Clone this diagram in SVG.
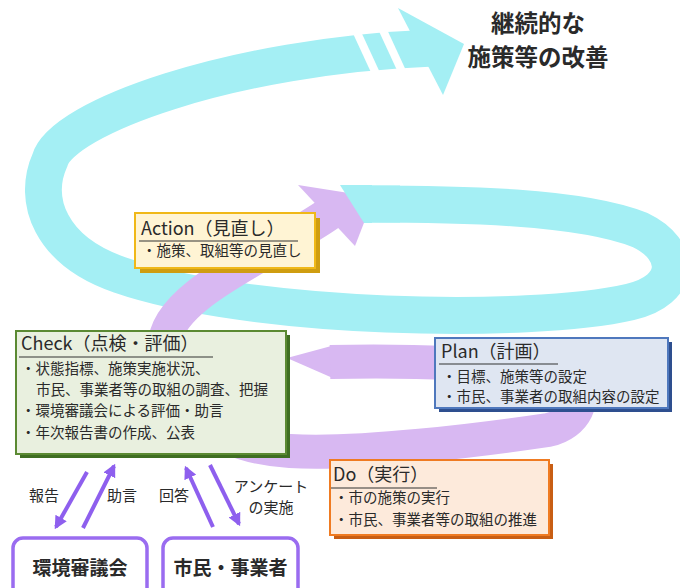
<svg xmlns="http://www.w3.org/2000/svg" width="680" height="588" viewBox="0 0 680 588">
<defs>
<style>
text { font-family: "Noto Sans CJK JP", "Noto Sans", sans-serif; fill:#2a2a2a; }
.cy { fill:none; stroke:#a4eff4; stroke-width:37; }
.cyf { fill:#a4eff4; }
.pu { fill:none; stroke:#d8b8f2; stroke-width:34; }
.puf { fill:#d8b8f2; }
.gap { stroke:#ffffff; stroke-width:8; }
.ttl { font-size:18px; }
.body { font-size:14.5px; }
.lbl { font-size:15px; }
.big { font-size:19px; font-weight:bold; }
.head { font-size:23.5px; font-weight:bold; text-anchor:middle; }
.ul { stroke:#333; stroke-width:1.2; }
.arr { stroke:#8e5fee; stroke-width:4; fill:none; marker-end:url(#ah); }
.org { fill:#ffffff; stroke:#9a6cf0; stroke-width:3.5; }
</style>
<marker id="ah" viewBox="0 0 10 10" refX="8" refY="5" markerWidth="13" markerHeight="13" markerUnits="userSpaceOnUse" orient="auto"><path d="M0,0 L10,5 L0,10 z" fill="#8e5fee"/></marker>
</defs>

<g id="spiral-outer">
<path class="cy" d="M 365 204 C 460 204, 580 206, 640 230 C 682 250, 682 290, 630 302 C 530 325, 250 320, 120 275 C 50 251, 32 200, 50 160 C 62 118, 230 56, 433 48"/>
<line class="gap" x1="352.6" y1="23" x2="379.4" y2="81"/>
<line class="gap" x1="379.6" y1="23" x2="406.4" y2="81"/>
<polygon class="cyf" points="398,8 464,44 443,95"/>
</g>

<g id="spiral-inner">
<polygon class="puf" points="287,358 335,345 335,379"/>
<path class="pu" d="M 330 362 C 430 360, 530 364, 570 385 C 588 397, 576 424, 548 430 C 480 440, 360 455, 290 451 C 220 447, 165 410, 165 345 C 165 295, 270 255, 330 213"/>
<polygon class="puf" points="298,185 374,197 355,246"/>
</g>

<g id="spiral-outer-start">
<polygon class="cyf" points="340,185 372,185 372,223 364,223"/>
<path class="cy" d="M 370 204 L 400 204"/>
</g>

<g id="title">
<text class="head" x="538" y="32">継続的な</text>
<text class="head" x="538" y="66">施策等の改善</text>
</g>

<g id="action">
<rect x="140" y="218" width="180" height="55" fill="#cf9d10"/>
<rect x="135" y="213" width="180" height="55" fill="#fff4d4" stroke="#f0b818" stroke-width="2"/>
<text class="ttl" x="141" y="235">Action（見直し）</text>
<line class="ul" x1="139" y1="241" x2="298" y2="241"/>
<text class="body" x="142" y="256">・施策、取組等の見直し</text>
</g>

<g id="check">
<rect x="20" y="335" width="270" height="123" fill="#3f6e22"/>
<rect x="16" y="331" width="270" height="123" fill="#e9f0df" stroke="#5b8a33" stroke-width="2"/>
<text class="ttl" x="21" y="350">Check（点検・評価）</text>
<line class="ul" x1="19" y1="357" x2="213" y2="357"/>
<text class="body" x="21" y="374">・状態指標、施策実施状況、</text>
<text class="body" x="36" y="395">市民、事業者等の取組の調査、把握</text>
<text class="body" x="21" y="416">・環境審議会による評価・助言</text>
<text class="body" x="21" y="438">・年次報告書の作成、公表</text>
</g>

<g id="plan">
<rect x="439" y="342" width="233" height="70" fill="#2e4f8f"/>
<rect x="435" y="338" width="233" height="70" fill="#dfe6f2" stroke="#4f78bd" stroke-width="2"/>
<text class="ttl" x="441" y="358">Plan（計画）</text>
<line class="ul" x1="439" y1="364" x2="558" y2="364"/>
<text class="body" x="442" y="382">・目標、施策等の設定</text>
<text class="body" x="442" y="402">・市民、事業者の取組内容の設定</text>
</g>

<g id="do">
<rect x="334" y="464" width="219" height="75" fill="#c85e14"/>
<rect x="330" y="460" width="219" height="75" fill="#fdeadb" stroke="#ef7b22" stroke-width="2"/>
<text class="ttl" x="333" y="481">Do（実行）</text>
<line class="ul" x1="331" y1="488" x2="437" y2="488"/>
<text class="body" x="334" y="503">・市の施策の実行</text>
<text class="body" x="334" y="525">・市民、事業者等の取組の推進</text>
</g>

<g id="council">
<rect class="org" x="13" y="538" width="134" height="62" rx="10"/>
<text class="big" x="80" y="575" text-anchor="middle">環境審議会</text>
</g>

<g id="citizens">
<rect class="org" x="163" y="538" width="135" height="62" rx="10"/>
<text class="big" x="230.5" y="575" text-anchor="middle">市民・事業者</text>
</g>

<g id="connectors">
<line class="arr" x1="87" y1="472" x2="56" y2="527"/>
<line class="arr" x1="83" y1="528" x2="114" y2="466"/>
<line class="arr" x1="213" y1="527" x2="186" y2="468"/>
<line class="arr" x1="210" y1="465" x2="239" y2="524"/>
<text class="lbl" x="44" y="501" text-anchor="middle">報告</text>
<text class="lbl" x="122" y="501" text-anchor="middle">助言</text>
<text class="lbl" x="174" y="501" text-anchor="middle">回答</text>
<text class="lbl" x="271" y="492" text-anchor="middle">アンケート</text>
<text class="lbl" x="271" y="513" text-anchor="middle">の実施</text>
</g>
</svg>
